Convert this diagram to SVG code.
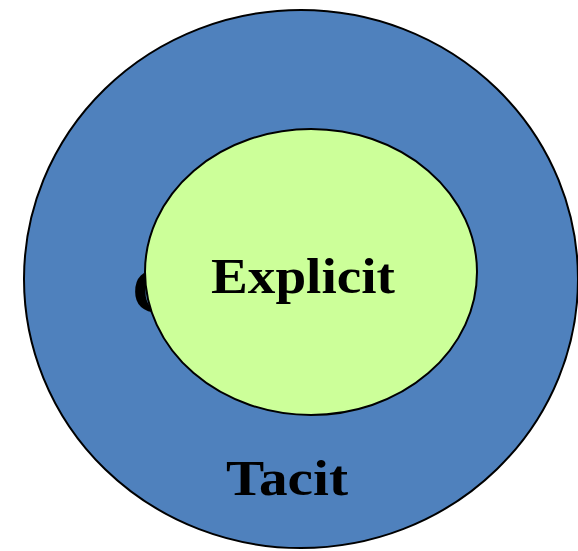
<svg xmlns="http://www.w3.org/2000/svg" width="578" height="551" viewBox="0 0 578 551">
<style>
.lbl{font-family:"Liberation Serif","Times New Roman",serif;font-weight:bold;fill:#000}
.shape{stroke:#000;stroke-width:2}
</style>
<rect width="578" height="551" fill="#fff"/>
<g id="tacit">
<ellipse class="shape" cx="301" cy="279" rx="277" ry="269" fill="#4f81bd"/>
<text class="lbl" x="132" y="312" font-size="64">C</text>
<text class="lbl" x="226" y="495" font-size="50" textLength="122" lengthAdjust="spacingAndGlyphs">Tacit</text>
</g>
<g id="explicit">
<ellipse class="shape" cx="311" cy="272" rx="166" ry="143" fill="#ccff99"/>
<text class="lbl" x="211" y="293" font-size="50" textLength="184" lengthAdjust="spacingAndGlyphs">Explicit</text>
</g>
<g id="connectors"/>
</svg>
